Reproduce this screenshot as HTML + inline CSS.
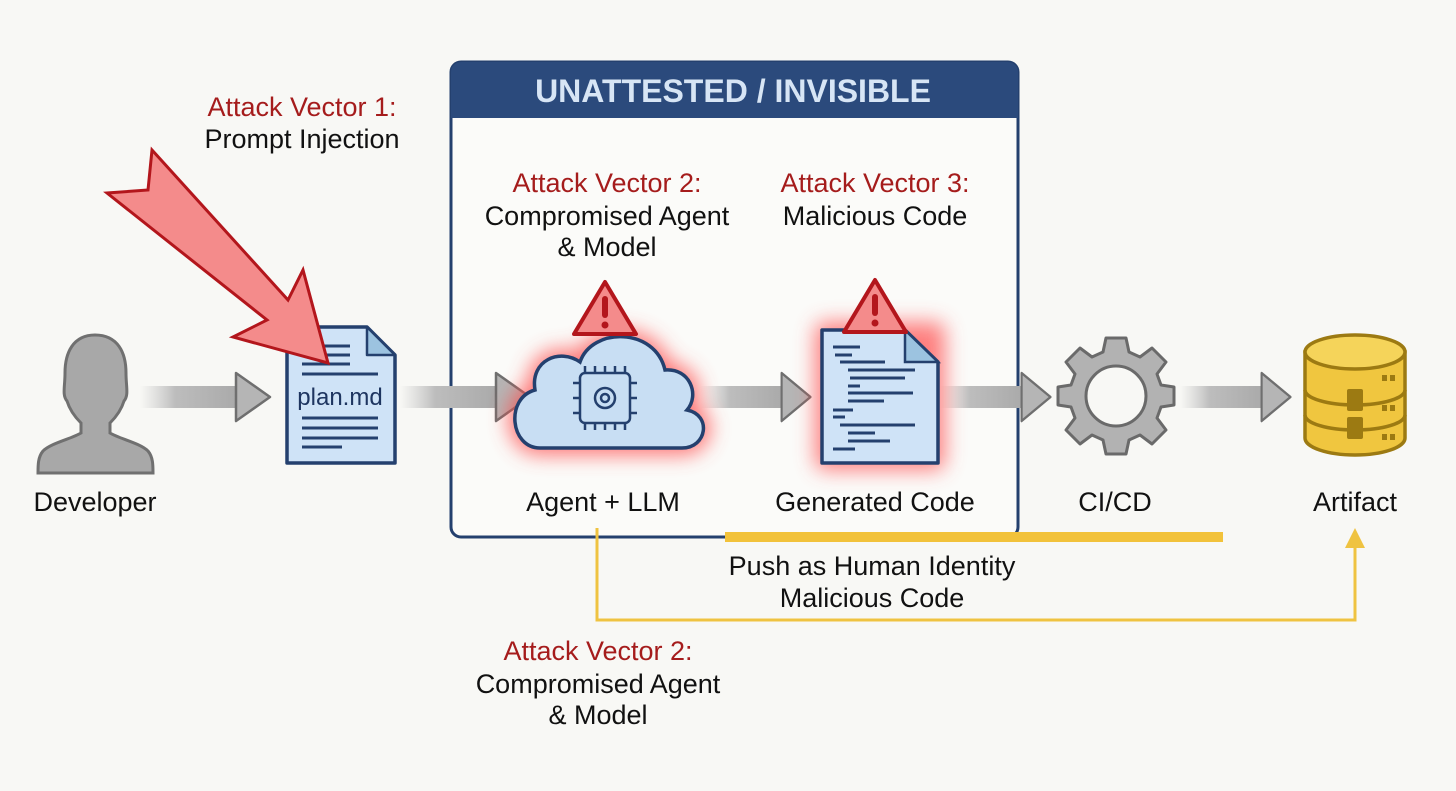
<!DOCTYPE html>
<html><head><meta charset="utf-8"><style>
html,body{margin:0;padding:0;background:#f8f8f5;}
svg{display:block;}
text{font-family:"Liberation Sans",sans-serif;}
</style></head><body>
<svg width="1456" height="791" viewBox="0 0 1456 791" xmlns="http://www.w3.org/2000/svg">
<defs>
<linearGradient id="ga" x1="0" x2="1" y1="0" y2="0">
<stop offset="0" stop-color="#c9c9c9" stop-opacity="0"/>
<stop offset="0.35" stop-color="#bdbdbd"/>
<stop offset="1" stop-color="#a9a9a9"/>
</linearGradient>
<filter id="glow" x="-40%" y="-40%" width="180%" height="180%">
<feGaussianBlur stdDeviation="10"/>
</filter>
<g id="arr">
<rect x="0" y="-11" width="100" height="22" fill="url(#ga)"/>
<polygon points="96,-24 130,0 96,24" fill="#b5b5b5" stroke="#6f6f6f" stroke-width="2.5" stroke-linejoin="round"/>
</g>
</defs>

<!-- Container box -->
<rect x="451" y="62" width="567" height="475" rx="10" fill="#fbfbf9" stroke="#24406e" stroke-width="3"/>
<path d="M451,118 V72 a10,10 0 0 1 10,-10 H1008 a10,10 0 0 1 10,10 V118 Z" fill="#2b4a7c"/>
<text x="733" y="102" text-anchor="middle" font-size="32" font-weight="bold" fill="#d7e5f5">UNATTESTED / INVISIBLE</text>

<!-- Gray arrows -->
<use href="#arr" transform="translate(140,397)"/>
<use href="#arr" transform="translate(400,397)"/>
<use href="#arr" transform="translate(700,397) scale(0.85,1)"/>
<use href="#arr" transform="translate(940,397) scale(0.85,1)"/>
<use href="#arr" transform="translate(1180,397) scale(0.85,1)"/>

<!-- Developer -->
<path d="M95,335 c-22,0 -30,18 -30,38 c0,14 -3,22 2,28 c3,10 10,18 14,22 v10 c-10,6 -30,10 -38,18 c-5,6 -5,14 -5,22 h115 c0,-8 0,-16 -5,-22 c-8,-8 -28,-12 -38,-18 v-10 c4,-4 11,-12 14,-22 c5,-6 2,-14 2,-28 c0,-20 -8,-38 -31,-38 z" fill="#a8a8a8" stroke="#707070" stroke-width="3"/>
<text x="95" y="511" text-anchor="middle" font-size="27" fill="#111">Developer</text>

<!-- plan.md -->
<path d="M287,327 H367 L395,355 V463 H287 Z" fill="#cfe3f7" stroke="#24406e" stroke-width="3.5" stroke-linejoin="round"/>
<path d="M367,327 V355 H395 Z" fill="#9cc3e0" stroke="#24406e" stroke-width="2.5" stroke-linejoin="round"/>
<g stroke="#24406e" stroke-width="3">
<line x1="302" y1="346" x2="350" y2="346"/>
<line x1="302" y1="355" x2="350" y2="355"/>
<line x1="302" y1="364" x2="350" y2="364"/>
<line x1="302" y1="374" x2="378" y2="374"/>
<line x1="302" y1="418" x2="378" y2="418"/>
<line x1="302" y1="428" x2="378" y2="428"/>
<line x1="302" y1="438" x2="378" y2="438"/>
<line x1="302" y1="447" x2="342" y2="447"/>
</g>
<text x="340" y="405" text-anchor="middle" font-size="24" fill="#1e3560">plan.md</text>

<!-- Red arrow -->
<polygon points="152,150 288,300 303,270 328,363 233,337 267,320 107,193 148,190" fill="#f48b8b" stroke="#b3161c" stroke-width="3" stroke-linejoin="miter"/>

<text x="302" y="116" text-anchor="middle" font-size="27" fill="#a51c1c">Attack Vector 1:</text>
<text x="302" y="148" text-anchor="middle" font-size="27" fill="#111">Prompt Injection</text>

<!-- Glows -->
<path d="M540,448 c-30,0 -35,-50 -5,-58 c-5,-30 25,-42 45,-28 c12,-35 75,-35 85,8 c25,-2 35,25 22,40 c25,5 20,38 -5,38 Z" fill="#ff4848" opacity="0.75" stroke="#ff4848" stroke-width="14" filter="url(#glow)"/>
<rect x="815" y="322" width="130" height="148" rx="10" fill="#ff4848" opacity="0.7" filter="url(#glow)"/>
<!-- Cloud -->
<path d="M540,448 c-30,0 -35,-50 -5,-58 c-5,-30 25,-42 45,-28 c12,-35 75,-35 85,8 c25,-2 35,25 22,40 c25,5 20,38 -5,38 Z" fill="#c8def3" stroke="#24406e" stroke-width="3.5"/>
<g stroke="#24406e" stroke-width="2.5" fill="none">
<rect x="580" y="373" width="50" height="50" rx="5"/>
<circle cx="605" cy="398" r="10"/>
<circle cx="605" cy="398" r="4"/>
<line x1="585" y1="366" x2="585" y2="373"/><line x1="595" y1="366" x2="595" y2="373"/><line x1="605" y1="366" x2="605" y2="373"/><line x1="615" y1="366" x2="615" y2="373"/><line x1="625" y1="366" x2="625" y2="373"/>
<line x1="585" y1="423" x2="585" y2="430"/><line x1="595" y1="423" x2="595" y2="430"/><line x1="605" y1="423" x2="605" y2="430"/><line x1="615" y1="423" x2="615" y2="430"/><line x1="625" y1="423" x2="625" y2="430"/>
<line x1="573" y1="383" x2="580" y2="383"/><line x1="573" y1="398" x2="580" y2="398"/><line x1="573" y1="413" x2="580" y2="413"/>
<line x1="630" y1="383" x2="637" y2="383"/><line x1="630" y1="398" x2="637" y2="398"/><line x1="630" y1="413" x2="637" y2="413"/>
</g>
<g>
<path d="M605,282 L636,334 H574 Z" fill="#f48b8b" stroke="#b3161c" stroke-width="4" stroke-linejoin="round"/>
<rect x="602" y="296" width="6" height="22" rx="3" fill="#b3161c"/><circle cx="605" cy="325" r="3.5" fill="#b3161c"/>
</g>

<!-- Generated code doc -->
<path d="M822,330 H905 L938,362 V463 H822 Z" fill="#cfe3f7" stroke="#24406e" stroke-width="3.5" stroke-linejoin="round"/>
<path d="M905,330 V362 H938 Z" fill="#9cc3e0" stroke="#24406e" stroke-width="2.5"/>
<g stroke="#24406e" stroke-width="3">
<line x1="833" y1="347" x2="860" y2="347"/><line x1="835" y1="355" x2="852" y2="355"/>
<line x1="840" y1="362" x2="885" y2="362"/><line x1="848" y1="370" x2="915" y2="370"/>
<line x1="850" y1="378" x2="905" y2="378"/><line x1="848" y1="386" x2="860" y2="386"/>
<line x1="848" y1="393" x2="913" y2="393"/><line x1="848" y1="401" x2="884" y2="401"/>
<line x1="833" y1="410" x2="853" y2="410"/><line x1="833" y1="417" x2="845" y2="417"/>
<line x1="840" y1="425" x2="915" y2="425"/><line x1="848" y1="433" x2="875" y2="433"/>
<line x1="848" y1="441" x2="890" y2="441"/><line x1="833" y1="449" x2="855" y2="449"/>
</g>
<g>
<path d="M875,280 L906,332 H844 Z" fill="#f48b8b" stroke="#b3161c" stroke-width="4" stroke-linejoin="round"/>
<rect x="872" y="294" width="6" height="22" rx="3" fill="#b3161c"/><circle cx="875" cy="323" r="3.5" fill="#b3161c"/>
</g>

<text x="607" y="192" text-anchor="middle" font-size="27" fill="#a51c1c">Attack Vector 2:</text>
<text x="607" y="225" text-anchor="middle" font-size="27" fill="#111">Compromised Agent</text>
<text x="607" y="256" text-anchor="middle" font-size="27" fill="#111">&amp; Model</text>
<text x="875" y="192" text-anchor="middle" font-size="27" fill="#a51c1c">Attack Vector 3:</text>
<text x="875" y="225" text-anchor="middle" font-size="27" fill="#111">Malicious Code</text>

<text x="603" y="511" text-anchor="middle" font-size="27" fill="#111">Agent + LLM</text>
<text x="875" y="511" text-anchor="middle" font-size="27" fill="#111">Generated Code</text>

<!-- Gear -->
<g transform="translate(1116,396)">
<g fill="#b2b2b2" stroke="#6a6a6a" stroke-width="3" stroke-linejoin="round">
<path d="M-10,-58 H10 L13,-44 L24,-39 L36,-48 L50,-34 L41,-22 L45,-11 L58,-9 V9 L45,11 L41,22 L50,34 L36,48 L24,39 L13,44 L10,58 H-10 L-13,44 L-24,39 L-36,48 L-50,34 L-41,22 L-45,11 L-58,9 V-9 L-45,-11 L-41,-22 L-50,-34 L-36,-48 L-24,-39 L-13,-44 Z"/>
</g>
<circle r="30" fill="#f8f8f5" stroke="#6a6a6a" stroke-width="3"/>
</g>
<text x="1115" y="511" text-anchor="middle" font-size="27" fill="#111">CI/CD</text>

<!-- Database -->
<g stroke="#9c7a12" stroke-width="3.5">
<path d="M1305,352 V438 a50,17 0 0 0 100,0 V352 Z" fill="#f0c63f"/>
<ellipse cx="1355" cy="352" rx="50" ry="17" fill="#f5d45a"/>
<path d="M1305,390 a50,15 0 0 0 100,0 M1305,415 a50,15 0 0 0 100,0" fill="none"/>
</g>
<rect x="1347" y="389" width="16" height="22" rx="2" fill="#9c7a12"/>
<rect x="1347" y="417" width="16" height="22" rx="2" fill="#9c7a12"/>
<g fill="#9c7a12"><rect x="1382" y="375" width="5" height="6"/><rect x="1390" y="375" width="5" height="6"/><rect x="1382" y="405" width="5" height="6"/><rect x="1390" y="405" width="5" height="6"/><rect x="1382" y="434" width="5" height="6"/><rect x="1390" y="434" width="5" height="6"/></g>
<text x="1355" y="511" text-anchor="middle" font-size="27" fill="#111">Artifact</text>

<!-- Yellow lines -->
<rect x="725" y="532" width="498" height="10" fill="#f2c23a"/>
<polyline points="597,528 597,620 1355,620 1355,545" fill="none" stroke="#efc341" stroke-width="3"/>
<polygon points="1345,548 1365,548 1355,528" fill="#efc341"/>

<text x="872" y="575" text-anchor="middle" font-size="27" fill="#111">Push as Human Identity</text>
<text x="872" y="607" text-anchor="middle" font-size="27" fill="#111">Malicious Code</text>

<text x="598" y="660" text-anchor="middle" font-size="27" fill="#a51c1c">Attack Vector 2:</text>
<text x="598" y="693" text-anchor="middle" font-size="27" fill="#111">Compromised Agent</text>
<text x="598" y="724" text-anchor="middle" font-size="27" fill="#111">&amp; Model</text>
</svg>
</body></html>
